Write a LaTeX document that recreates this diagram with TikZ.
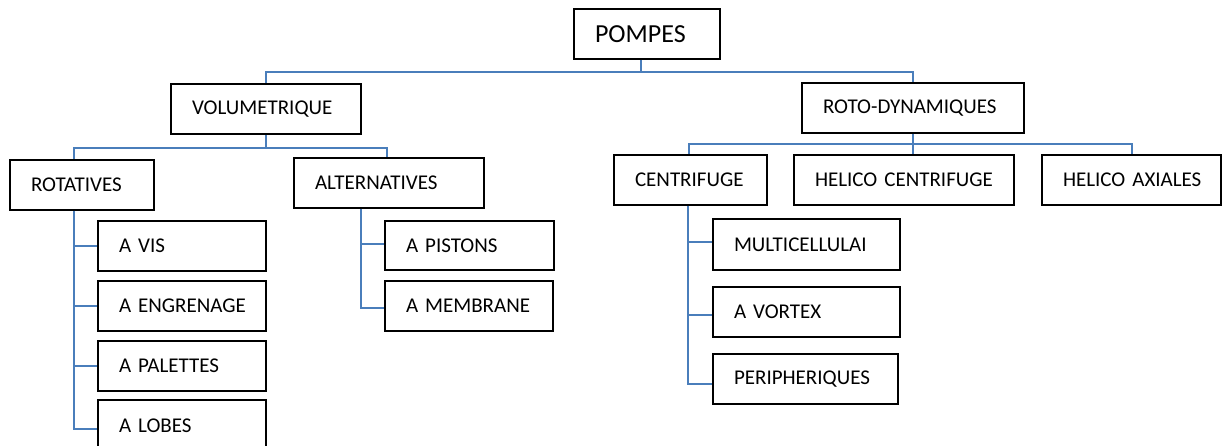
\documentclass[tikz,border=0pt]{standalone}
\usepackage{fontspec}
\setmainfont[WordSpace=0.7]{Carlito}
\definecolor{connblue}{RGB}{74,126,187}
\begin{document}
\begin{tikzpicture}[x=1pt,y=-1pt,
  box/.style={draw=black, line width=2pt, anchor=north west, inner xsep=21pt, inner ysep=0pt,
    align=left, font=\fontsize{21}{25}\selectfont},
  conn/.style={draw=connblue, line width=2pt}]
\useasboundingbox (0,0) rectangle (1226,446);
% nodes
\node[box, text width=104pt, minimum height=50pt, font=\fontsize{26}{30}\selectfont] (pompes) at (573,8) {\mbox{POMPES}};
\node[box, text width=148pt, minimum height=50pt] (vol) at (170,83) {\mbox{VOLUMETRIQUE}};
\node[box, text width=180pt, minimum height=50pt] (roto) at (801,82) {\mbox{ROTO-DYNAMIQUES}};
\node[box, text width=102pt, minimum height=50pt] (rot) at (9,159) {\mbox{ROTATIVES}};
\node[box, text width=148pt, minimum height=50pt] (alt) at (293,157) {\mbox{ALTERNATIVES}};
\node[box, text width=126pt, minimum height=50pt] (avis) at (97,220) {\mbox{A VIS}};
\node[box, text width=126pt, minimum height=50pt] (aeng) at (97,280) {\mbox{A ENGRENAGE}};
\node[box, text width=126pt, minimum height=50pt] (apal) at (97,340) {\mbox{A PALETTES}};
\node[box, text width=126pt, minimum height=52pt] (alob) at (97,399) {\mbox{A LOBES}};
\node[box, text width=127pt, minimum height=49pt] (apis) at (384,220) {\mbox{A PISTONS}};
\node[box, text width=126pt, minimum height=50pt] (amem) at (384,280) {\mbox{A MEMBRANE}};
\node[box, text width=111pt, minimum height=50pt] (cent) at (613,154) {\mbox{CENTRIFUGE}};
\node[box, text width=178pt, minimum height=50pt] (hcent) at (793,154) {\mbox{HELICO CENTRIFUGE}};
\node[box, text width=137pt, minimum height=50pt] (hax) at (1041,154) {\mbox{HELICO AXIALES}};
\node[box, text width=145pt, minimum height=51pt] (multi) at (712,218) {\mbox{MULTICELLULAI}};
\node[box, text width=145pt, minimum height=50pt] (vort) at (712,286) {\mbox{A VORTEX}};
\node[box, text width=143pt, minimum height=50pt] (peri) at (712,353) {\mbox{PERIPHERIQUES}};
% connectors
\draw[conn] ([xshift=-6pt]pompes.south) -- ++(0,12) coordinate (j1);
\draw[conn] (vol.north) |- (j1) -| (roto.north);
\draw[conn] (vol.south) -- ++(0,13) coordinate (j2);
\draw[conn] ([xshift=-8pt]rot.north) |- (j2) -| ([xshift=-2pt]alt.north);
\draw[conn] (roto.south) -- ++(0,10) coordinate (j3);
\draw[conn] ([xshift=-2pt]cent.north) |- (j3) -| (hax.north);
\draw[conn] (j3) -- (j3 |- hcent.north);
\coordinate (rs) at ([xshift=-8pt]rot.south);
\draw[conn] (rs) |- (avis.west);
\draw[conn] (rs) |- (aeng.west);
\draw[conn] (rs) |- (apal.west);
\draw[conn] (rs) |- ([yshift=-3pt]alob.west);
\coordinate (as) at ([xshift=-28pt]alt.south);
\draw[conn] (as) |- ([yshift=1pt]apis.west);
\draw[conn] (as) |- ([yshift=-2pt]amem.west);
\coordinate (cs) at ([xshift=-3pt]cent.south);
\draw[conn] (cs) |- ([yshift=2pt]multi.west);
\draw[conn] (cs) |- ([yshift=-3pt]vort.west);
\draw[conn] (cs) |- ([yshift=-5pt]peri.west);
\end{tikzpicture}
\end{document}
